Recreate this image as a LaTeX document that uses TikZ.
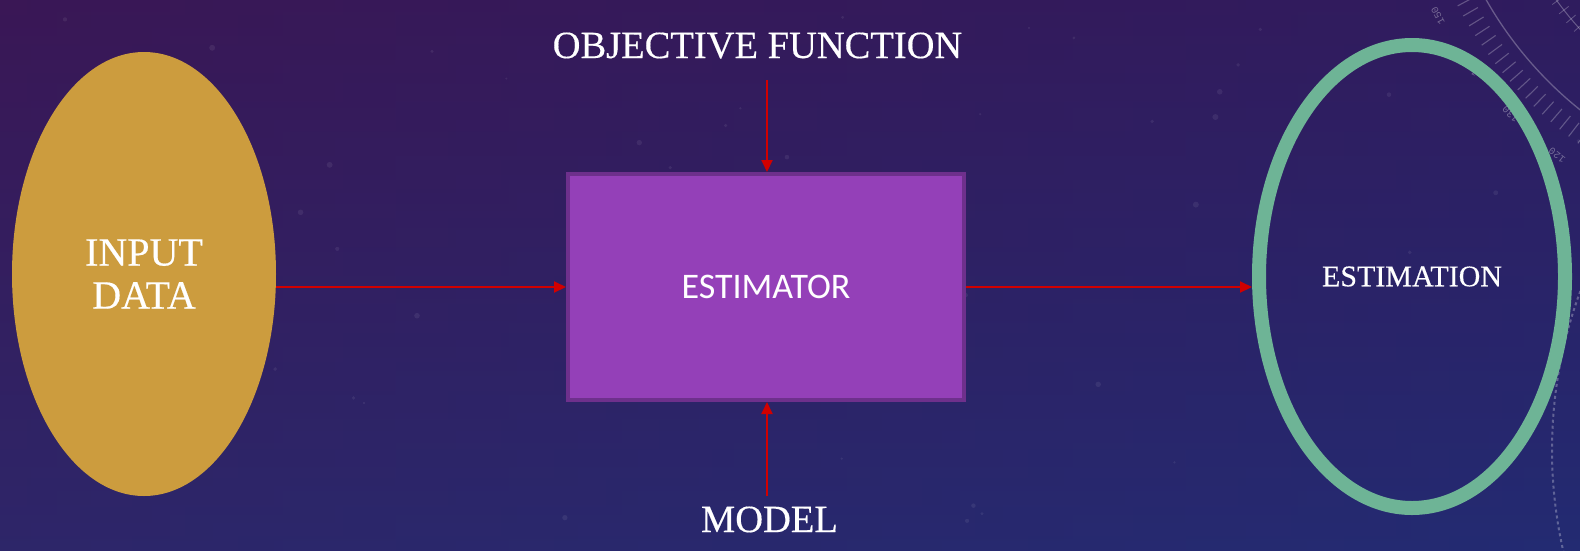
\documentclass[tikz,border=0pt]{standalone}
\usepackage{fontspec}
\setmainfont{Liberation Serif}
\newfontfamily\heavyserif[FakeBold=0.35]{Liberation Serif}
\newfontfamily\calibfont{Carlito}
\newfontfamily\dialfont{Liberation Mono}
\usetikzlibrary{shapes.geometric,arrows.meta}
\definecolor{bgtop}{RGB}{56,24,88}
\definecolor{bgbot}{RGB}{37,47,118}
\definecolor{ovleft}{RGB}{62,22,82}
\definecolor{ovright}{RGB}{32,36,108}
\definecolor{gold}{RGB}{204,156,62}
\definecolor{estfill}{RGB}{148,64,184}
\definecolor{estdraw}{RGB}{110,48,140}
\definecolor{ringcol}{RGB}{110,180,150}
\definecolor{arrred}{RGB}{210,0,0}
\begin{document}
\begin{tikzpicture}[x=1pt,y=-1pt,
  arr/.style={draw=arrred, line width=2pt, -{Triangle[length=12pt,width=11pt]}},
  lbl/.style={text=white, inner sep=0pt, anchor=base, font=\heavyserif\fontsize{38.5}{41}\selectfont},
  dialline/.style={draw=white, opacity=0.28, line width=1.3pt},
  dialtick/.style={draw=white, opacity=0.25, line width=1.1pt},
  dialtext/.style={text=white, opacity=0.35, inner sep=0pt, font=\dialfont\fontsize{10}{11}\selectfont},
  startdot/.style={fill=white, opacity=0.07}]
\useasboundingbox (0,0) rectangle (1580,550);
\begin{scope}
\clip (0,0) rectangle (1580,550);
% background
\shade[top color=bgtop, bottom color=bgbot] (0,0) rectangle (1580,550);
\shade[left color=ovleft, right color=ovright, opacity=0.35] (0,0) rectangle (1580,550);
% faint stars
\pgfmathsetseed{42}
\foreach \i in {1,...,45}{
  \pgfmathsetmacro\sx{790+790*rand}
  \pgfmathsetmacro\sy{275+275*rand}
  \pgfmathsetmacro\sr{1+2*rnd}
  \fill[startdot] (\sx,\sy) circle[radius=\sr];
}
% dial decoration, top right
\begin{scope}[shift={(1820,-190)}]
  \draw[dialline] (95:384) arc[start angle=95, end angle=175, radius=384];
  \draw[dialline, line width=1pt] (100:325) arc[start angle=100, end angle=165, radius=325];
  \foreach \a in {118,119.6,...,153}{\draw[dialtick] (\a:395) -- (\a:412);}
  \foreach \a in {124,126,...,150}{\draw[dialtick, line width=0.8pt] (\a:319) -- (\a:331);}
  \foreach \a/\t in {151.7/150,143.5/140,135.5/130,127.3/120}{
    \pgfmathsetmacro\rot{270-\a}
    \node[dialtext, rotate=\rot] at (\a:434) {\t};
  }
\end{scope}
% dashed arc, bottom right
\begin{scope}[shift={(2012,450)}]
  \draw[draw=white, opacity=0.28, line width=2pt, dash pattern=on 3pt off 3pt] (155:460) arc[start angle=155, end angle=205, radius=460];
\end{scope}
\end{scope}
% main nodes
\node[ellipse, fill=gold, minimum width=264pt, minimum height=444pt, inner sep=0pt, outer sep=0pt,
      text=white, align=center, font=\heavyserif\fontsize{40}{43}\selectfont] (in) at (144,274) {INPUT\\DATA};
\node[rectangle, fill=estfill, draw=estdraw, line width=4pt, minimum width=396pt, minimum height=226pt,
      text=white, font=\calibfont\fontsize{36}{40}\selectfont] (est) at (766,287) {ESTIMATOR};
\node[ellipse, draw=ringcol, line width=14pt, minimum width=306pt, minimum height=463pt, inner sep=0pt,
      text=white, font=\heavyserif\fontsize{30}{32}\selectfont] (res) at (1412,276.5) {ESTIMATION};
\node[lbl] (obj) at (757.5,58) {OBJECTIVE FUNCTION};
\node[lbl] (mod) at (769.5,532) {MODEL};
\coordinate (objend) at (767,80);
\coordinate (modend) at (767,496);
% connectors
\draw[arr] (objend) -- (objend |- est.north);
\draw[arr] (modend) -- (modend |- est.south);
\draw[arr] (in.east |- est.west) -- (est.west);
\draw[arr] (est.east) -- (res.west |- est.east);
\end{tikzpicture}
\end{document}
